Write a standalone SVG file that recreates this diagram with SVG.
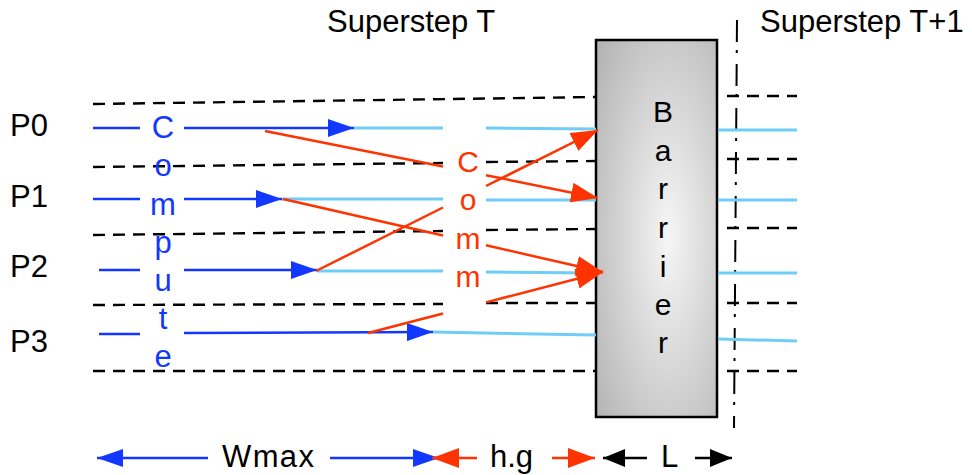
<svg xmlns="http://www.w3.org/2000/svg" width="972" height="475" viewBox="0 0 972 475">
<defs>
<style>
text{font-family:"Liberation Sans",Arial,sans-serif;}
.lbl{font-size:31px;fill:#000;}
.cmp{font-size:31px;fill:#1238ff;text-anchor:middle;}
.com{font-size:30px;fill:#ff3300;text-anchor:middle;}
.bar{font-size:30px;fill:#000;text-anchor:middle;}
.dash{stroke:#000;stroke-width:2.4;stroke-dasharray:12 8;fill:none;}
.blue{stroke:#1238ff;stroke-width:2.5;fill:none;}
.lblue{stroke:#70cdf5;stroke-width:3;fill:none;}
.red{stroke:#ff3300;stroke-width:2.5;fill:none;}
.blk{stroke:#000;stroke-width:2.5;fill:none;}
</style>
<radialGradient id="gb" cx="0.6" cy="0.52" r="0.75">
<stop offset="0" stop-color="#f6f6f6"/>
<stop offset="1" stop-color="#b5b5b5"/>
</radialGradient>
<marker id="mb" viewBox="0 0 26 18" refX="26" refY="9" markerWidth="26" markerHeight="18" markerUnits="userSpaceOnUse" orient="auto-start-reverse"><path d="M0,0 L26,9 L0,18 z" fill="#1238ff"/></marker>
<marker id="mr" viewBox="0 0 27 20" refX="27" refY="10" markerWidth="27" markerHeight="20" markerUnits="userSpaceOnUse" orient="auto-start-reverse"><path d="M0,0 L27,10 L0,20 z" fill="#ff3300"/></marker>
<marker id="mk" viewBox="0 0 22 18" refX="22" refY="9" markerWidth="22" markerHeight="18" markerUnits="userSpaceOnUse" orient="auto-start-reverse"><path d="M0,0 L22,9 L0,18 z" fill="#000"/></marker>
</defs>
<rect width="972" height="475" fill="#fff"/>

<g id="titles">
<text class="lbl" x="327" y="32">Superstep T</text>
<text class="lbl" x="760" y="32">Superstep T+1</text>
</g>

<g id="processors">
<text class="lbl" x="10" y="136">P0</text>
<text class="lbl" x="10" y="207">P1</text>
<text class="lbl" x="10" y="277">P2</text>
<text class="lbl" x="10" y="352">P3</text>
</g>

<g id="grid">
<path class="dash" d="M93,104 L596,97"/>
<path class="dash" d="M93,167 L443,163 M486,162 L596,161"/>
<path class="dash" d="M93,235 L443,231 M486,230 L596,229"/>
<path class="dash" d="M93,305 L443,304 M486,303 L596,303"/>
<path class="dash" d="M93,371 L596,371"/>
<path class="dash" d="M727,96 L797,96 M727,159 L797,159 M727,228 L797,228 M727,303 L797,303 M727,371 L797,371"/>
<path d="M737,20 L734,428" stroke="#000" stroke-width="2" stroke-dasharray="22 8 3 11" fill="none"/>
</g>

<g id="barrier">
<rect x="596" y="40" width="121" height="377" fill="url(#gb)" stroke="#000" stroke-width="2.5"/>
<text class="bar" x="663" y="122">B</text>
<text class="bar" x="663" y="161">a</text>
<text class="bar" x="663" y="199">r</text>
<text class="bar" x="663" y="238">r</text>
<text class="bar" x="663" y="277">i</text>
<text class="bar" x="663" y="315">e</text>
<text class="bar" x="663" y="353">r</text>
</g>

<g id="compute">
<text class="cmp" x="163" y="138">C</text>
<text class="cmp" x="163" y="176">o</text>
<text class="cmp" x="163" y="215">m</text>
<text class="cmp" x="163" y="253">p</text>
<text class="cmp" x="163" y="291">u</text>
<text class="cmp" x="163" y="329">t</text>
<text class="cmp" x="163" y="367">e</text>
</g>

<g id="comm">
<text class="com" x="468" y="172">C</text>
<text class="com" x="468" y="210">o</text>
<text class="com" x="468" y="249">m</text>
<text class="com" x="468" y="287">m</text>
</g>

<g id="connectors">
<path class="lblue" d="M354,128 L443,128 M486,128 L596,129"/>
<path class="lblue" d="M282,199 L443,199 M486,200 L596,200"/>
<path class="lblue" d="M317,271 L443,271 M486,272 L596,273"/>
<path class="lblue" d="M433,332 L596,335"/>
<path class="lblue" d="M718,130 L797,130 M718,200 L797,200 M718,273 L797,273 M718,339 L797,341"/>

<path class="blue" d="M93,128 L140,128"/>
<path class="blue" d="M184,128 L354,128" marker-end="url(#mb)"/>
<path class="blue" d="M93,199 L140,199"/>
<path class="blue" d="M184,199 L282,199" marker-end="url(#mb)"/>
<path class="blue" d="M99,270 L140,270"/>
<path class="blue" d="M184,270 L317,270" marker-end="url(#mb)"/>
<path class="blue" d="M99,334 L140,334"/>
<path class="blue" d="M184,333 L433,332" marker-end="url(#mb)"/>

<path class="red" d="M265,131 L443,166.6"/>
<path class="red" d="M486,175.2 L598,198" marker-end="url(#mr)"/>
<path class="red" d="M283,199 L443,235.5"/>
<path class="red" d="M486,245.3 L603,272" marker-end="url(#mr)"/>
<path class="red" d="M316,271 L443,207.5"/>
<path class="red" d="M486,186 L598,130" marker-end="url(#mr)"/>
<path class="red" d="M368,333 L443,313.5"/>
<path class="red" d="M486,302.4 L603,272" marker-end="url(#mr)"/>
</g>

<g id="legend">
<path class="blue" d="M208,458 L97,458" marker-end="url(#mb)"/>
<path class="blue" d="M330,458 L439,458" marker-end="url(#mb)"/>
<path class="red" d="M477,458 L432,458" marker-end="url(#mr)"/>
<path class="red" d="M552,458 L595,458" marker-end="url(#mr)"/>
<path class="blk" d="M647,458 L603,458" marker-end="url(#mk)"/>
<path class="blk" d="M695,458 L732,458" marker-end="url(#mk)"/>
<text class="lbl" x="222" y="467" textLength="92">Wmax</text>
<text class="lbl" x="490" y="467">h.g</text>
<text class="lbl" x="661" y="467">L</text>
</g>
</svg>
